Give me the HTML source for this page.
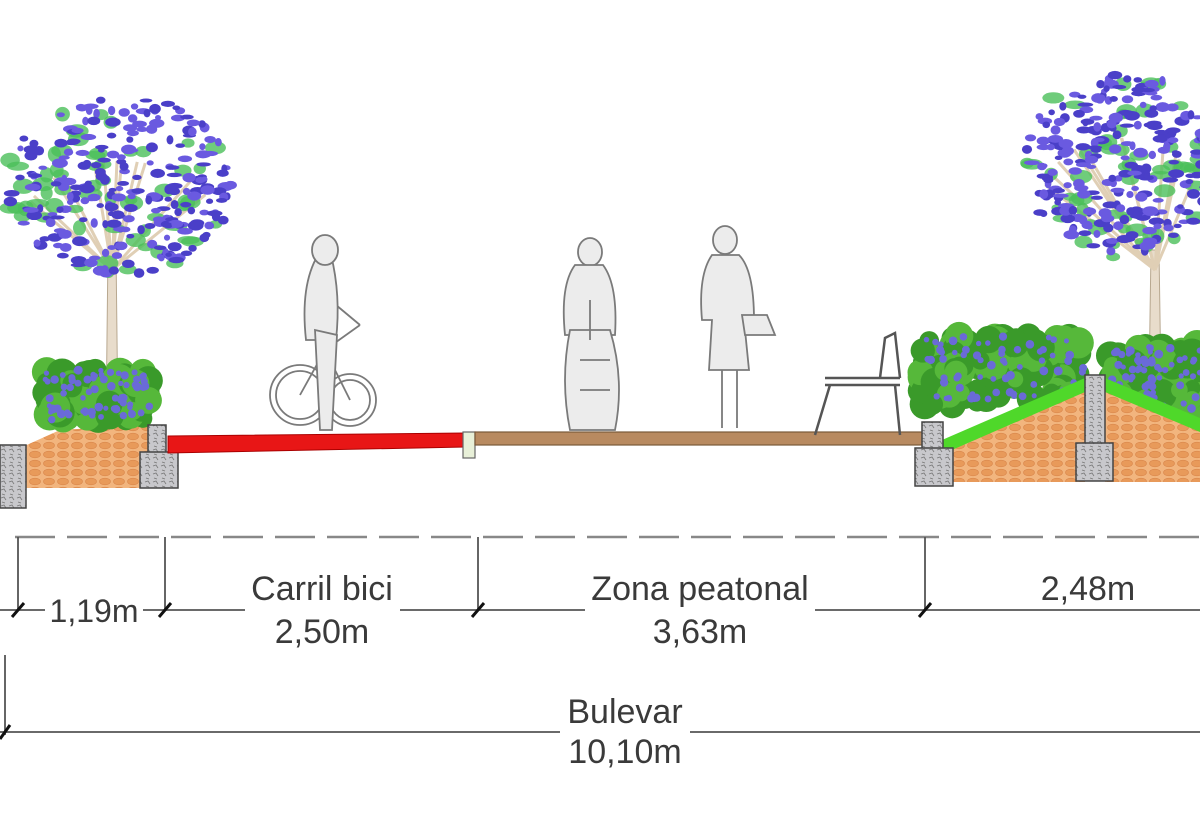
<!DOCTYPE html>
<html><head><meta charset="utf-8"><style>
html,body{margin:0;padding:0;background:#fff;width:1200px;height:840px;overflow:hidden}
svg{display:block}
text{font-family:"Liberation Sans",sans-serif;fill:#3a3a3a;font-size:34px;text-anchor:middle}
</style></head><body>
<svg id="s" width="1200" height="840" viewBox="0 0 1200 840">
<defs>
<pattern id="brick" width="14" height="9" patternUnits="userSpaceOnUse">
<rect width="14" height="9" fill="#f2b57e"/>
<ellipse cx="7" cy="4.5" rx="5.5" ry="3.3" fill="#e89a5a" stroke="#d9864a" stroke-width="0.6"/>
</pattern>
<pattern id="stone" width="8" height="8" patternUnits="userSpaceOnUse">
<rect width="8" height="8" fill="#c8c8cc"/>
<path d="M1 2 L4 1 L6 4 M2 6 L5 7" stroke="#777" stroke-width="0.8" fill="none"/>
</pattern>
</defs>
<g id="trees"></g>
<!-- left planter -->
<polygon points="20,448 60,430 148,425 148,488 20,488" fill="url(#brick)"/>
<g id="bushL"></g>
<rect x="0" y="445" width="26" height="63" fill="url(#stone)" stroke="#444" stroke-width="1.5"/>
<rect x="148" y="425" width="18" height="28" fill="url(#stone)" stroke="#444" stroke-width="1.5"/>
<rect x="140" y="452" width="38" height="36" fill="url(#stone)" stroke="#444" stroke-width="1.5"/>
<!-- red bike lane -->
<polygon points="168,436 465,433 465,447 168,453" fill="#e81616" stroke="#a00" stroke-width="1"/>
<rect x="463" y="432" width="12" height="26" fill="#e8f0d8" stroke="#666" stroke-width="1.2"/>
<!-- deck -->
<rect x="475" y="432" width="448" height="13" fill="#b88a60" stroke="#7a5a3a" stroke-width="1.2"/>
<!-- right planters -->
<g id="bushR"></g>
<polygon points="945,452 1085,390 1085,482 945,482" fill="url(#brick)"/>
<polygon points="1105,390 1200,430 1200,482 1105,482" fill="url(#brick)"/>
<polygon points="942,440 1085,378 1085,392 945,453" fill="#4fd82a"/>
<polygon points="1105,378 1200,418 1200,432 1105,392" fill="#4fd82a"/>
<rect x="922" y="422" width="21" height="28" fill="url(#stone)" stroke="#444" stroke-width="1.5"/>
<rect x="915" y="448" width="38" height="38" fill="url(#stone)" stroke="#444" stroke-width="1.5"/>
<rect x="1085" y="375" width="20" height="70" fill="url(#stone)" stroke="#444" stroke-width="1.5"/>
<rect x="1076" y="443" width="37" height="38" fill="url(#stone)" stroke="#444" stroke-width="1.5"/>
<!-- people (sketchy) -->
<g fill="#ececec" stroke="#7a7a7a" stroke-width="1.8">
 <circle cx="300" cy="395" r="30" fill="none"/><circle cx="300" cy="395" r="24" fill="none"/>
 <circle cx="350" cy="400" r="26" fill="none"/><circle cx="350" cy="400" r="20" fill="none"/>
 <path d="M300 395 L325 350 L350 400 M325 350 L360 325 M330 300 l30 25" fill="none"/>
 <path d="M318 255 q-18 30 -12 85 l30 0 q5 -45 -5 -85 z"/>
 <ellipse cx="325" cy="250" rx="13" ry="15"/>
 <path d="M315 330 l5 100 l12 0 l5 -95 z"/>
 <ellipse cx="590" cy="252" rx="12" ry="14"/>
 <path d="M575 265 q-15 20 -10 70 l50 0 q3 -50 -12 -70 z"/>
 <path d="M570 330 q-10 50 0 100 l45 0 q10 -50 -5 -100 z"/>
 <path d="M580 360 l30 0 M580 390 l30 0 M590 300 l0 40" fill="none"/>
 <ellipse cx="725" cy="240" rx="12" ry="14"/>
 <path d="M712 255 q-14 20 -10 65 l10 0 l-3 50 l40 0 l-5 -50 l10 0 q0 -50 -15 -65 z"/>
 <path d="M722 370 l0 58 M737 370 l0 58" fill="none"/>
 <path d="M742 315 l25 0 l8 20 l-30 0 z"/>
 <path d="M825 378 l75 0 M825 385 l75 0 M830 385 l-15 50 M895 385 l5 50 M880 378 l5 -40 l10 -5 l5 45" stroke="#555" fill="none" stroke-width="2.5"/>
</g>
<!-- dimensions -->
<line x1="15" y1="537" x2="1200" y2="537" stroke="#888" stroke-width="2.5" stroke-dasharray="40,12"/>
<g stroke="#555" stroke-width="1.8">
<line x1="18" y1="537" x2="18" y2="610"/><line x1="165" y1="537" x2="165" y2="610"/>
<line x1="478" y1="537" x2="478" y2="610"/><line x1="925" y1="537" x2="925" y2="610"/>
<line x1="0" y1="610" x2="45" y2="610"/><line x1="143" y1="610" x2="245" y2="610"/>
<line x1="400" y1="610" x2="585" y2="610"/><line x1="815" y1="610" x2="1200" y2="610"/>
<line x1="5" y1="655" x2="5" y2="735"/>
<line x1="0" y1="732" x2="560" y2="732"/><line x1="690" y1="732" x2="1200" y2="732"/>
</g>
<g stroke="#111" stroke-width="3">
<line x1="12" y1="617" x2="24" y2="603"/><line x1="159" y1="617" x2="171" y2="603"/>
<line x1="472" y1="617" x2="484" y2="603"/><line x1="919" y1="617" x2="931" y2="603"/>
<line x1="0" y1="739" x2="10" y2="725"/>
</g>
<text x="94" y="622" style="font-size:32px">1,19m</text>
<text x="322" y="600">Carril bici</text><text x="322" y="643">2,50m</text>
<text x="700" y="600">Zona peatonal</text><text x="700" y="643">3,63m</text>
<text x="1088" y="600">2,48m</text>
<text x="625" y="723">Bulevar</text><text x="625" y="763">10,10m</text>
</svg>
<script>
var ns="http://www.w3.org/2000/svg",seed=7;
function r(){seed=(seed*9301+49297)%233280;return seed/233280;}
function el(g,t,a){var e=document.createElementNS(ns,t);for(var k in a)e.setAttribute(k,a[k]);g.appendChild(e);return e;}
var T=document.getElementById("trees");
function tree(cx,cy,rx,ry,tx,ty,tb){
 el(T,"path",{d:"M"+(tx-4)+" "+ty+" L"+(tx-6)+" "+tb+" L"+(tx+6)+" "+tb+" L"+(tx+4)+" "+ty+" Z",fill:"#e8dccb",stroke:"#b8a890"});
 for(var i=0;i<12;i++){var a=3.14+r()*3.14;el(T,"line",{x1:tx,y1:ty+20,x2:cx+Math.cos(a)*rx*0.8,y2:cy+Math.sin(a)*ry*0.6+30,stroke:"#e0cfb5","stroke-width":3});}
 for(var i=0;i<60;i++){var a=r()*6.28,d=Math.sqrt(r());el(T,"ellipse",{cx:cx+Math.cos(a)*rx*d,cy:cy+Math.sin(a)*ry*d,rx:6+r()*6,ry:4+r()*4,fill:"#4bbf5a",opacity:0.8});}
 for(var i=0;i<260;i++){var a=r()*6.28,d=Math.sqrt(r());el(T,"ellipse",{cx:cx+Math.cos(a)*rx*d,cy:cy+Math.sin(a)*ry*d,rx:3+r()*5,ry:2+r()*3,fill:r()<0.5?"#4a3fc8":"#6a5ae0"});}
}
tree(120,185,115,90,112,250,425);
tree(1120,165,95,95,1155,250,385);
function bush(id,x0,x1,ytop,ybot){var g=document.getElementById(id);
 for(var i=0;i<120;i++){var x=x0+r()*(x1-x0),y=ytop+r()*(ybot-ytop);el(g,"circle",{cx:x,cy:y,r:8+r()*8,fill:r()<0.6?"#3a9a2a":"#56b83a"});}
 for(var i=0;i<70;i++){var x=x0+r()*(x1-x0),y=ytop+r()*(ybot-ytop);el(g,"circle",{cx:x,cy:y,r:2.5+r()*2,fill:"#6a6ad8"});}
}
bush("bushL",45,150,370,420);
bush("bushR",920,1085,335,405);
bush("bushR",1110,1200,345,410);
</script>
</body></html>
